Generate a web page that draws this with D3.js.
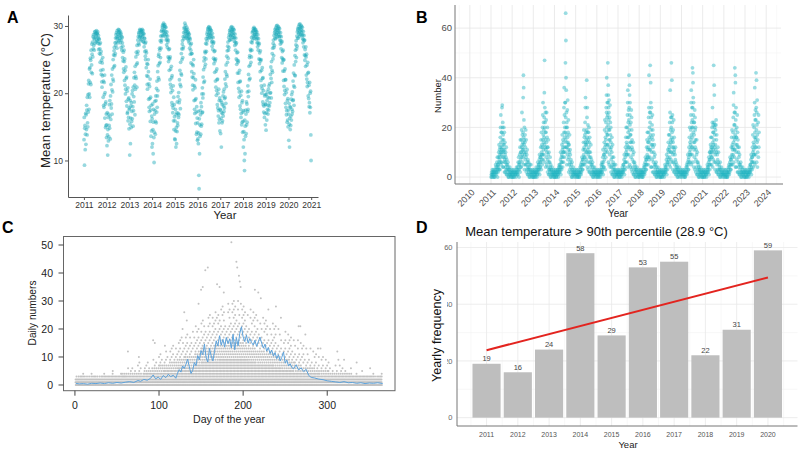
<!DOCTYPE html>
<html><head><meta charset="utf-8">
<script src="https://cdn.jsdelivr.net/npm/d3@7"></script>
<style>body{margin:0;background:#fff}svg{display:block}text{font-family:Arial,"Liberation Sans",sans-serif}</style>
</head><body><svg width="800" height="454"></svg>
<script>
// ---------- DATA ----------
// Panel A: daily mean temperature, 2011-2020 (24 half-month bins per year, 4 readings per bin)
const yearsA = [2011,2012,2013,2014,2015,2016,2017,2018,2019,2020];
const tempA = [
"13.1 16.4 9.3 14.8,15.2 11.6 13.9 17.0,12.4 16.8 14.6 18.2,17.5 13.8 19.4 15.6,15.0 19.8 17.2 21.4,21.9 17.6 19.9 23.6,19.4 23.8 21.6 25.2,24.9 21.3 26.4 23.1,24.2 27.3 25.8 22.9,27.6 25.4 28.4 26.6,28.7 27.1 28.2 26.4,28.0 29.1 27.4 28.8,29.2 28.3 28.9 27.6,28.5 29.3 27.9 28.9,28.8 27.7 29.1 28.2,27.4 28.6 26.5 28.1,28.0 25.9 27.3 26.6,24.6 27.5 25.8 23.4,26.2 22.8 24.9 21.7,20.9 24.5 22.6 25.3,23.5 19.4 21.8 18.2,17.9 21.6 19.8 22.7,16.3 20.1 18.4 14.9,18.7 15.2 16.9 13.4",
"15.3 12.2 17.1 13.8,10.8 14.6 16.4 12.9,16.9 13.5 15.2 18.3,14.8 18.9 16.6 13.2,19.6 16.1 21.3 17.8,18.4 22.7 20.5 16.9,23.6 20.2 22.1 25.0,21.8 25.7 23.9 26.3,26.8 24.1 25.6 27.5,25.9 28.2 27.1 28.7,27.6 29.0 28.3 26.7,29.3 28.1 28.8 27.5,28.4 29.5 27.8 29.1,29.4 28.6 29.0 27.9,28.2 29.2 27.5 28.7,28.9 26.8 27.9 28.4,26.4 28.3 27.5 25.3,27.0 24.8 26.1 23.6,23.1 26.4 24.7 21.9,25.1 21.2 23.4 19.9,20.6 23.9 22.2 18.8,22.4 18.1 20.3 17.0,17.2 20.8 15.9 19.1,16.4 19.3 14.7 17.8",
"17.6 10.8 15.4 18.9,12.5 16.3 18.1 14.9,18.6 15.8 17.3 19.9,16.2 20.4 18.0 15.1,20.9 17.4 19.5 22.3,18.7 23.1 21.2 16.8,24.0 20.6 22.5 25.4,22.2 26.1 24.3 20.9,27.1 24.5 25.8 27.9,26.2 28.4 27.4 29.0,28.8 27.2 28.3 29.3,29.5 28.4 29.0 27.8,28.6 29.4 28.0 29.2,29.1 28.3 29.5 28.8,28.5 29.3 27.7 28.9,27.6 28.8 26.9 28.2,28.1 26.2 27.4 25.5,25.0 27.6 26.3 23.8,26.0 22.6 24.4 21.3,20.6 24.3 22.5 25.0,23.2 19.1 21.4 17.9,17.3 21.0 19.2 22.1,15.8 19.4 17.5 13.6,18.2 14.4 16.6 12.0",
"16.2 12.5 18.4 14.6,11.0 15.7 17.6 13.4,9.7 14.2 16.9 18.8,17.4 13.9 15.8 19.6,18.9 15.6 20.7 17.2,21.8 17.9 19.6 23.2,20.4 24.1 22.3 25.5,25.8 22.0 24.4 26.7,26.4 24.6 27.8 25.3,28.5 26.7 27.6 29.2,27.9 29.4 28.6 30.0,29.8 28.5 30.2 29.1,30.4 29.3 28.7 30.0,29.6 30.2 28.9 29.9,29.2 28.4 29.8 27.9,28.7 27.2 29.1 28.0,26.8 28.5 27.6 25.4,27.9 24.7 26.5 25.2,23.4 26.6 25.1 22.0,25.4 21.3 23.6 20.1,20.8 24.0 22.3 18.6,22.6 18.2 20.4 17.1,17.8 21.1 15.9 19.4,14.6 18.3 16.5 13.2",
"15.9 13.1 17.6 14.4,12.0 16.8 14.9 12.5,17.1 14.3 18.7 15.6,15.2 19.5 17.0 16.4,20.1 16.8 18.6 22.0,19.0 23.4 21.3 17.7,24.6 21.0 22.9 25.9,22.7 26.6 25.0 27.3,27.8 25.3 26.6 28.4,26.9 29.0 28.1 29.6,29.8 28.5 30.4 29.2,28.9 30.1 29.5 28.2,29.3 28.4 29.8 28.9,28.6 29.5 28.1 29.1,29.0 27.8 28.7 28.3,27.5 28.8 26.7 28.2,28.0 25.8 27.2 26.4,24.5 27.4 25.9 23.2,25.9 22.4 24.3 21.2,20.5 24.1 22.3 25.0,22.9 18.9 21.1 17.6,17.0 20.8 19.0 22.0,15.5 19.2 17.2 13.9,18.0 14.2 16.3 13.0",
"15.6 13.2 17.3 12.5,14.1 7.8 5.8 16.2,11.0 15.3 13.6 17.4,16.8 13.9 18.6 15.1,18.0 15.4 19.9 17.1,20.8 17.2 19.3 22.4,19.9 23.5 21.6 24.8,25.3 21.8 23.9 26.2,26.0 24.3 27.4 25.1,28.1 26.2 27.3 28.8,27.8 29.1 28.4 29.6,29.4 28.2 29.8 28.7,29.9 28.9 28.3 29.5,29.2 29.7 28.6 29.4,28.8 28.1 29.3 27.6,28.4 27.0 28.9 27.7,26.5 28.3 27.4 25.2,27.6 24.4 26.2 25.0,23.1 26.3 24.8 21.8,25.1 20.9 23.3 19.7,20.4 23.6 22.0 18.3,22.1 17.8 20.0 16.6,17.4 20.6 15.6 18.9,16.1 19.3 14.4 17.6",
"17.5 14.0 18.9 16.3,12.0 17.1 18.6 15.6,18.3 15.9 17.0 19.6,16.6 20.2 18.1 17.3,20.6 17.8 19.2 22.1,19.4 23.2 21.4 18.5,24.2 21.0 22.8 25.5,22.5 26.3 24.6 27.0,27.6 25.2 26.4 28.3,26.8 28.7 27.9 29.3,29.0 27.9 29.5 28.5,28.6 29.8 29.2 28.0,29.9 28.8 29.4 28.3,29.1 29.7 28.6 29.5,28.9 28.2 29.4 27.7,28.3 27.1 28.8 27.6,26.4 28.2 27.3 25.1,27.5 24.3 26.0 24.9,23.0 26.1 24.6 21.6,24.8 20.7 23.0 19.4,20.2 23.4 21.7 18.1,21.8 17.6 19.7 16.4,17.0 20.3 15.3 18.6,15.7 18.9 14.2 17.2",
"15.8 12.0 17.4 14.3,13.1 10.0 8.5 16.0,11.0 15.1 13.6 17.5,16.9 14.0 18.7 15.3,18.4 15.7 20.2 17.3,21.1 17.6 19.5 22.8,20.3 24.0 22.0 25.3,25.6 22.2 24.2 26.5,26.3 24.6 27.6 25.4,28.3 26.4 27.5 29.0,27.9 29.2 28.5 29.6,29.3 28.2 29.8 28.7,29.6 28.7 28.2 29.4,29.0 29.5 28.4 29.2,28.7 28.0 29.1 27.5,28.2 26.9 28.7 27.5,26.4 28.1 27.2 25.1,27.4 24.4 26.0 25.0,23.2 26.3 24.8 21.9,25.0 21.1 23.4 20.0,20.7 23.8 22.2 18.7,22.3 18.3 20.4 17.2,18.1 21.2 16.4 19.6,17.0 19.8 15.3 18.4",
"18.3 14.5 19.8 17.1,16.0 18.9 20.2 17.6,19.4 16.9 18.2 20.6,17.5 21.1 19.3 18.1,21.4 18.6 20.0 22.8,20.1 23.9 22.2 19.3,24.7 21.6 23.4 25.9,23.1 26.7 25.1 27.4,27.9 25.6 26.8 28.6,27.1 29.0 28.2 29.5,29.2 28.1 29.7 28.7,28.8 30.0 29.4 28.3,30.1 29.0 29.6 28.5,29.3 29.9 28.8 29.7,29.1 28.4 29.6 27.9,28.5 27.3 29.0 27.8,26.6 28.4 27.5 25.3,27.7 24.5 26.2 25.1,23.3 26.4 24.9 21.9,25.0 21.0 23.3 19.8,20.4 23.6 22.0 18.5,22.0 17.9 20.1 16.8,17.4 20.6 15.7 18.9,16.0 19.2 15.0 17.5",
"16.9 13.0 18.5 15.4,12.0 16.3 18.0 14.6,17.9 15.2 16.6 19.1,16.0 19.8 17.6 16.9,20.2 17.3 18.9 21.8,19.0 23.0 21.1 18.2,24.2 20.9 22.7 25.6,22.6 26.4 24.7 27.2,27.8 25.3 26.6 28.5,27.0 29.1 28.2 29.6,29.4 28.2 29.9 28.8,29.0 30.2 29.6 28.5,30.3 29.2 29.8 28.7,29.5 30.1 29.0 29.9,29.3 28.6 29.8 28.1,28.7 27.5 29.2 28.0,26.9 28.6 27.8 25.7,27.9 24.9 26.5 25.6,24.0 26.9 25.4 22.7,25.8 22.1 24.2 21.0,21.6 24.6 23.0 19.6,23.1 19.2 21.2 18.0,18.6 21.6 17.1 20.0,17.9 20.3 13.8 10.0"
];
const ticksA = [2011,2012,2013,2014,2015,2016,2017,2018,2019,2020,2021];

// Panel B: daily numbers, 2011 - mid 2023 (readings per month)
const yearsB = [2011,2012,2013,2014,2015,2016,2017,2018,2019,2020,2021,2022,2023];
const numB = [
"0 1 2 0 1 3 2,1 0 2 3 1 2 0,0 2 1 3 5 4 2,1 3 2 6 4 8 0 5 3,2 5 8 4 10 6 13 3 7 11 9,3 8 12 16 6 20 10 25 14 5 18 9 11,6 12 18 28 10 29 15 20 8 22 4 13 17 11,4 10 15 20 8 13 6 18 2 11 7 14 9,2 6 10 4 8 3 12 1 5 7,1 3 5 2 6 4 0 3,0 2 1 3 4 1 2,1 0 2 3 1 0 2",
"0 1 2 3 1 0 2,0 2 1 3 1 2,1 0 2 4 3 2 1,2 4 1 6 3 8 5 0,3 6 9 5 12 2 15 7 10 4,4 10 15 8 19 12 26 6 13 17 9 11,8 14 18 32 11 41 16 36 5 23 13 10 15 20,3 9 14 17 7 12 5 19 10 8 15,2 5 9 3 11 6 1 4 7,1 3 6 2 4 0 3 5,0 2 1 3 5 2 1,1 0 2 3 0 2",
"0 1 2 3 0 1 2,1 0 2 3 4 2 1,0 2 1 3 6 4 3 5,2 5 3 7 9 1 4 6 8,4 8 12 6 15 3 18 10 9 13 7,5 12 20 9 25 15 30 7 17 11 22 14 19,9 16 24 34 13 47 20 28 6 22 18 12 26 15,4 11 18 23 8 14 26 5 10 16 12 20,2 7 12 4 9 15 1 6 10 3,1 3 6 2 8 4 0 5 3,0 2 1 3 4 2 1,1 0 2 3 1 2 0",
"0 1 2 3 1 2 0,0 2 1 3 2 1 3,1 0 2 4 3 5 2 4,2 5 3 7 10 1 4 6 8,3 9 13 6 17 11 4 8 15 12 10,6 14 22 10 28 18 36 8 25 16 12 20 30,10 18 30 46 15 66 24 55 40 12 35 20 26 17 14 22,5 12 20 27 9 16 31 7 14 18 11 23 13,2 8 13 5 10 17 3 6 11 9,1 4 7 2 5 0 3 6,0 2 1 3 4 2 1,1 0 2 3 2 1",
"0 1 2 3 1 0,1 0 2 3 1 2 0,0 2 1 4 3 2 5,1 4 2 6 8 3 5 7,3 7 11 5 14 9 19 8 12 16,5 11 17 8 22 14 28 32 6 13 18 10 15,7 13 19 39 10 24 16 28 4 14 18 11 21,3 9 15 18 6 12 20 2 10 14 8 16,2 6 10 4 8 13 1 5 7,1 3 5 2 6 0 4 2,0 2 1 3 4 1 2,1 0 2 3 1 2",
"0 1 2 3 0 1 2,1 0 2 3 1 2,0 2 1 3 5 4 2 6,2 5 3 8 11 1 6 4 9,4 9 14 7 19 12 23 3 10 16 13,8 15 22 11 28 18 33 26 40 20 24 13 30 17,10 17 25 46 13 30 21 37 33 6 28 23 19 26 15 31,5 12 19 24 9 15 29 4 22 17 11 20 14,2 7 12 4 10 16 1 8 5 13,1 3 6 2 8 4 0 5 3,0 2 1 3 5 2 1,1 0 2 3 1 2",
"0 1 2 3 1 2 0,0 2 1 3 2 1,1 0 2 4 3 2 5,2 5 3 7 9 1 4 6,3 8 12 6 16 10 20 9 14 11,6 13 20 9 25 16 30 35 4 18 22 12 27,9 16 23 41 12 28 19 37 33 5 25 21 30 14 17,4 11 17 22 8 14 27 3 24 19 12 15,2 7 11 4 9 14 1 6 10,1 3 6 2 5 0 4 3,0 2 1 3 4 2,1 0 2 3 1 0",
"0 1 2 3 1 2,1 0 2 3 1 2 0,0 2 1 3 4 2 5,1 4 2 6 8 3 5 7,3 7 12 5 15 9 18 8 11 14,5 12 18 8 24 14 28 41 7 16 20 11 26,8 15 22 45 11 26 17 38 30 4 19 24 13 28,4 10 16 21 7 13 25 2 19 15 12 17,2 6 10 4 8 13 1 5 9,1 3 5 2 6 0 4 2,0 2 1 3 4 1 2,1 0 2 3 2 0",
"0 1 2 3 1 0 2,0 2 1 3 2 1,1 0 2 3 5 4 2,2 4 3 7 9 1 5 6,3 8 11 6 14 10 17 7 12,5 11 17 8 22 13 26 35 4 15 19 10 24,7 14 20 46 10 24 16 39 6 18 22 12 25 15,3 9 14 19 6 12 23 2 10 16 11,2 5 9 3 7 12 1 6 4,1 3 5 2 4 0 3 2,0 2 1 3 4 2,1 0 2 3 1 2",
"0 1 2 3 1 2,1 0 2 3 1 2 0,0 2 1 3 4 2 5,1 4 2 6 9 3 5 7,3 8 12 6 16 10 20 9 14 11,6 13 19 9 25 15 30 35 5 17 22 12 28 20,9 16 23 44 12 28 20 42 38 6 32 25 18 30 14 22,4 11 17 22 8 14 27 3 24 19 12 15 20,2 7 11 4 9 15 1 6 10,1 3 6 2 5 0 4 3,0 2 1 3 4 2 1,1 0 2 3 2 0",
"0 1 2 3 1 2 0,0 2 1 3 2 1,1 0 2 3 5 4 2,2 4 3 6 8 1 5 7 10,3 7 10 5 13 9 16 11 12 8,5 10 16 8 20 12 22 28 4 14 18 11 21,7 13 18 45 10 22 15 37 33 6 20 12 17 21,3 9 13 19 6 11 21 23 2 15 10 17,2 5 9 3 7 12 1 6 10,1 3 5 2 4 0 3 6,0 2 1 3 4 2 1,1 0 2 3 1 2",
"0 1 2 3 1 0,1 0 2 3 1 2 0,0 2 1 3 4 2 5,1 4 2 6 8 3 5 7,3 7 12 5 16 9 19 8 13 11,5 12 18 9 24 14 29 34 6 16 21 11 26,8 15 21 44 11 26 17 41 38 4 19 23 13 28 16,4 10 16 20 7 13 25 2 18 12 15,2 6 10 4 8 12 1 5 9,1 3 5 2 6 0 4 2,0 2 1 3 4 1 2,1 0 2 3 2 0",
"0 1 2 3 1 2 0,0 2 1 3 2 1,1 0 2 4 3 2 5,2 5 3 7 9 1 4 6 8,3 8 12 6 17 10 21 4 14 11 9,6 13 20 9 25 16 30 36 5 18 23 12 27 15,9 16 23 42 12 28 19 39 6 26 21 14 31 17,4 10 15 22 8 25 12 18"
];
const ticksB = [2010,2011,2012,2013,2014,2015,2016,2017,2018,2019,2020,2021,2022,2023,2024];

// Panel C: day-of-year counts. Per 5-day bin, number of points at each integer level (char index = level)
const histC = ["5542","55431","5542","55421","5543","5542","55431","5543","55431","5543","55431","55442",
"5543201","5543211","55432101","554321101","55433211","554332101",
"5543322101","55433221101","554332221101","5543332211101","55433322211011","554333222111011",
"55433332221111011","554333322211110101","5543333222211111011","55433332222111110101",
"5543333322221111110101","55433333222221111101101","554333333222221111110101","5543333332222211111101101",
"55433333322222111111011011","554333333222222111111011101","5543333333222221111111010101","55433333332222211111110101101",
"554333333322222211111110101101","5543333333222222111111101011011","5543333333222222111111110101101","554333333322222211111110110101",
"55433333332222211111110101101","5543333332222211111110101101","554333333222221111110101101","55433333222221111110101101",
"5543333322222111110110101","554333332222111110101101","55433333222211111010101","5543333222211111011011",
"554333322221111010101","55433322221111011001","5543332222111101101","554333222111101011",
"55433222111101101","5543322211110101","554332211101011","55433221110101",
"5543322110101","554332111011","55432211011","5543221101",
"554321101","55432101","5543210101","5543211","554321","5543201",
"55431","5543","554301","5543","55431","5542","55431"];
const outDayC = [45,63,76,93,95,107,128,130,133,147,150,152,155,158,169,172,177,186,192,193,195,196,197,214,218,221,230,239,245,266,268,274,289,292,312,320,335,351];
const outValC = [5,12,10,16,15,14,20,26,23,29,34,35,41,42,36,35,33,51,44,42,39,37,35,34,33,31,27,28,24,21,21,18,13,13,12,9,8,6];
const meanDayC = [1,5,10,15,20,25,30,35,40,45,50,55,60,65,70,75,78,82,86,90,93,96,99,102,105,108,111,114,117,120,122,124,126,128,130,132,134,136,138,140,142,144,146,148,150,152,154,156,158,160,162,164,166,168,170,172,174,176,178,180,182,184,186,188,190,192,194,196,198,200,202,204,206,208,210,212,214,216,218,220,222,224,226,228,230,232,234,236,238,240,242,244,246,248,250,252,254,256,258,260,263,266,269,272,275,278,281,285,290,295,300,305,310,315,320,325,330,335,340,345,350,355,360,366];
const meanValC = [0.6,0.4,0.5,0.3,0.6,0.5,0.7,0.5,0.8,0.6,0.9,0.7,1.0,1.2,0.9,1.6,1.3,2.0,1.7,2.4,3.6,2.2,2.8,2.0,3.4,2.6,3.8,3.0,3.5,2.4,4.2,5.5,4.6,6.8,5.9,7.4,9.2,6.5,4.1,5.2,8.0,6.9,10.5,9.0,12.3,10.8,14.6,9.7,8.2,13.1,10.4,8.6,12.0,15.8,13.9,17.6,14.2,16.3,13.5,17.0,14.8,16.5,13.2,18.1,12.6,16.9,14.0,18.4,20.8,17.2,15.5,17.8,14.9,16.6,15.2,14.3,16.0,13.8,15.4,17.1,15.0,13.2,14.6,12.1,13.4,11.2,12.5,10.3,11.6,9.4,10.8,8.6,9.9,11.8,7.8,8.9,6.8,7.6,6.2,5.8,7.2,5.4,6.1,4.8,5.6,3.4,2.7,2.5,2.1,1.9,1.5,1.3,1.1,0.9,1.2,0.8,0.9,0.6,0.8,0.5,0.7,0.6,0.8,0.5];
const ticksCx = [0,100,200,300];
const ticksCy = [0,10,20,30,40,50];

// Panel D: yearly frequency of days above 90th percentile
const yearsD = [2011,2012,2013,2014,2015,2016,2017,2018,2019,2020];
const freqD = [19,16,24,58,29,53,55,22,31,59];
const ticksDy = [0,20,40,60];

// ---------- DRAW ----------
const svg = d3.select("svg");
function fit(t, w){ const cur = t.node().getComputedTextLength(); const fs = parseFloat(t.attr("font-size")); t.attr("font-size", (fs*w/cur).toFixed(2)); return t; }
function letter(x, y, s){ svg.append("text").attr("x", x).attr("y", y).attr("font-size", 16).attr("font-weight", "bold").attr("fill", "#000").text(s); }

// ===== Panel A =====
const xA = d3.scaleLinear().domain([2010.3, 2021.3]).range([68, 318]);
const yA = d3.scaleLinear().domain([4.57, 31.63]).range([197, 15]);
const ptsA = [];
yearsA.forEach((yr, k) => tempA[k].split(",").forEach((bin, b) => {
  const v = bin.trim().split(/\s+/).map(Number);
  v.forEach((t, i) => ptsA.push([yr + (b + (i + 0.5) / v.length) / 24, t]));
}));
svg.append("g").selectAll("circle").data(ptsA).join("circle")
  .attr("cx", d => xA(d[0])).attr("cy", d => yA(d[1])).attr("r", 1.9)
  .attr("fill", "#18a9b9").attr("fill-opacity", 0.45);
const axA = svg.append("g").attr("transform", "translate(0,197)")
  .call(d3.axisBottom(xA).tickValues(ticksA).tickFormat(d3.format("d")).tickSize(3).tickSizeOuter(0).tickPadding(2));
const ayA = svg.append("g").attr("transform", "translate(68,0)")
  .call(d3.axisLeft(yA).tickValues([10,20,30]).tickSize(3).tickSizeOuter(0).tickPadding(2));
[axA, ayA].forEach(g => { g.select(".domain").attr("stroke", "#555"); g.selectAll(".tick line").attr("stroke", "#555");
  g.selectAll("text").attr("font-size", 8.5).attr("fill", "#333").attr("font-family", null); });
fit(svg.append("text").attr("x", 225).attr("y", 219).attr("text-anchor", "middle").attr("font-size", 11).attr("fill", "#222").text("Year"), 23);
fit(svg.append("text").attr("transform", "translate(49.5,100.5) rotate(-90)").attr("text-anchor", "middle").attr("font-size", 13).attr("fill", "#222").text("Mean temperature (°C)"), 135);
letter(7, 23, "A");

// ===== Panel B =====
const xB = d3.scaleLinear().domain([2009.3, 2024.7]).range([455, 781]);
const yB = d3.scaleLinear().domain([-2.8, 69.3]).range([184, 5]);
const gB = svg.append("g");
d3.range(2009.5, 2024.6, 1).forEach(t => gB.append("line").attr("x1", xB(t)).attr("x2", xB(t)).attr("y1", 5).attr("y2", 184).attr("stroke", "#f3f3f3").attr("stroke-width", 0.6));
[10,30,50].forEach(t => gB.append("line").attr("x1", 455).attr("x2", 781).attr("y1", yB(t)).attr("y2", yB(t)).attr("stroke", "#f3f3f3").attr("stroke-width", 0.6));
ticksB.forEach(t => gB.append("line").attr("x1", xB(t)).attr("x2", xB(t)).attr("y1", 5).attr("y2", 184).attr("stroke", "#e6e6e6").attr("stroke-width", 0.8));
[0,20,40,60].forEach(t => gB.append("line").attr("x1", 455).attr("x2", 781).attr("y1", yB(t)).attr("y2", yB(t)).attr("stroke", "#e6e6e6").attr("stroke-width", 0.8));
const ptsB = [];
yearsB.forEach((yr, k) => numB[k].split(",").forEach((mon, m) => {
  const v = mon.trim().split(/\s+/).map(Number);
  v.forEach((n, i) => ptsB.push([yr + (m + (i + 0.5) / v.length) / 12, n]));
}));
gB.append("g").selectAll("circle").data(ptsB).join("circle")
  .attr("cx", d => xB(d[0])).attr("cy", d => yB(d[1])).attr("r", 1.9)
  .attr("fill", "#1fb3c1").attr("fill-opacity", 0.45);
gB.append("line").attr("x1", 455).attr("x2", 455).attr("y1", 5).attr("y2", 184).attr("stroke", "#777");
gB.append("line").attr("x1", 455).attr("x2", 783).attr("y1", 184).attr("y2", 184).attr("stroke", "#777");
[0,20,40,60].forEach(t => gB.append("text").attr("x", 452).attr("y", yB(t) + 3.3).attr("text-anchor", "end").attr("font-size", 9.5).attr("fill", "#4d4d4d").text(t));
ticksB.forEach(t => gB.append("text").attr("transform", `translate(${xB(t) + 5.5},193) rotate(-45)`).attr("text-anchor", "end").attr("font-size", 9).attr("fill", "#4d4d4d").text(t));
gB.append("text").attr("x", 618).attr("y", 216.5).attr("text-anchor", "middle").attr("font-size", 10).attr("fill", "#222").text("Year");
gB.append("text").attr("transform", "translate(441,96) rotate(-90)").attr("text-anchor", "middle").attr("font-size", 9.5).attr("fill", "#222").text("Number");
letter(416, 23, "B");

// ===== Panel C =====
const xC = d3.scaleLinear().domain([-13.6, 380.6]).range([63.5, 395]);
const yC = d3.scaleLinear().domain([-2.04, 53.04]).range([390.7, 236.5]);
const ptsC = [];
histC.forEach((h, b) => h.split("").forEach((ch, lev) => {
  const c = +ch;
  for (let j = 0; j < c; j++) ptsC.push([5 * b + 0.5 + (((j + 0.5) * 5 / c + lev * 1.7) % 5), lev]);
}));
outDayC.forEach((d, i) => ptsC.push([d, outValC[i]]));
const gC = svg.append("g");
gC.append("g").selectAll("circle").data(ptsC).join("circle")
  .attr("cx", d => xC(d[0])).attr("cy", d => yC(d[1])).attr("r", 1)
  .attr("fill", "#c2c2c2");
gC.append("path").datum(meanDayC.map((d, i) => [d, meanValC[i]]))
  .attr("d", d3.line().x(d => xC(d[0])).y(d => yC(d[1])))
  .attr("fill", "none").attr("stroke", "#5da3dc").attr("stroke-width", 1);
gC.append("rect").attr("x", 63.5).attr("y", 236.5).attr("width", 395 - 63.5).attr("height", 390.7 - 236.5).attr("fill", "none").attr("stroke", "#666");
ticksCy.forEach(t => {
  gC.append("line").attr("x1", 58.5).attr("x2", 63.5).attr("y1", yC(t)).attr("y2", yC(t)).attr("stroke", "#444");
  gC.append("text").attr("x", 53).attr("y", yC(t) + 3.7).attr("text-anchor", "end").attr("font-size", 10.5).attr("fill", "#222").text(t);
});
ticksCx.forEach(t => {
  gC.append("line").attr("x1", xC(t)).attr("x2", xC(t)).attr("y1", 390.7).attr("y2", 395.7).attr("stroke", "#444");
  gC.append("text").attr("x", xC(t)).attr("y", 409).attr("text-anchor", "middle").attr("font-size", 10.5).attr("fill", "#222").text(t);
});
fit(gC.append("text").attr("x", 229).attr("y", 422.5).attr("text-anchor", "middle").attr("font-size", 10.5).attr("fill", "#222").text("Day of the year"), 72);
fit(gC.append("text").attr("transform", "translate(36,313) rotate(-90)").attr("text-anchor", "middle").attr("font-size", 10.5).attr("fill", "#222").text("Daily numbers"), 65);
letter(2, 233, "C");

// ===== Panel D =====
const xD = d3.scaleLinear().domain([2010.055, 2020.945]).range([457, 797.5]);
const yD = d3.scaleLinear().domain([-2.95, 61.95]).range([426, 242]);
const gD = svg.append("g");
[10,30,50].forEach(t => gD.append("line").attr("x1", 457).attr("x2", 797.5).attr("y1", yD(t)).attr("y2", yD(t)).attr("stroke", "#f3f3f3").attr("stroke-width", 0.6));
d3.range(2010.5, 2021, 1).forEach(t => gD.append("line").attr("x1", xD(t)).attr("x2", xD(t)).attr("y1", 242).attr("y2", 426).attr("stroke", "#f3f3f3").attr("stroke-width", 0.6));
ticksDy.forEach(t => gD.append("line").attr("x1", 457).attr("x2", 797.5).attr("y1", yD(t)).attr("y2", yD(t)).attr("stroke", "#e8e8e8").attr("stroke-width", 0.8));
yearsD.forEach(t => gD.append("line").attr("x1", xD(t)).attr("x2", xD(t)).attr("y1", 242).attr("y2", 426).attr("stroke", "#e8e8e8").attr("stroke-width", 0.8));
gD.selectAll("rect.bar").data(yearsD).join("rect").attr("class", "bar")
  .attr("x", d => xD(d - 0.45)).attr("width", d => xD(d + 0.45) - xD(d - 0.45))
  .attr("y", (d, i) => yD(freqD[i])).attr("height", (d, i) => yD(0) - yD(freqD[i]))
  .attr("fill", "#bebebe");
yearsD.forEach((d, i) => gD.append("text").attr("x", xD(d)).attr("y", yD(freqD[i]) - 2.5).attr("text-anchor", "middle").attr("font-size", 7.5).attr("fill", "#444").text(freqD[i]));
// least-squares trend line from the bar values
const mx = d3.mean(yearsD), my = d3.mean(freqD);
const slope = d3.sum(yearsD, (x, i) => (x - mx) * (freqD[i] - my)) / d3.sum(yearsD, x => (x - mx) ** 2);
const ends = [yearsD[0], yearsD[yearsD.length - 1]];
gD.append("line").attr("x1", xD(ends[0])).attr("y1", yD(my + slope * (ends[0] - mx)))
  .attr("x2", xD(ends[1])).attr("y2", yD(my + slope * (ends[1] - mx)))
  .attr("stroke", "#e3241f").attr("stroke-width", 2);
gD.append("line").attr("x1", 457).attr("x2", 457).attr("y1", 242).attr("y2", 426).attr("stroke", "#777");
gD.append("line").attr("x1", 457).attr("x2", 797.5).attr("y1", 426).attr("y2", 426).attr("stroke", "#777");
ticksDy.forEach(t => gD.append("text").attr("x", 452.5).attr("y", yD(t) + 2.6).attr("text-anchor", "end").attr("font-size", 7.5).attr("fill", "#666").text(t));
yearsD.forEach(t => gD.append("text").attr("x", xD(t)).attr("y", 436.5).attr("text-anchor", "middle").attr("font-size", 7).attr("fill", "#555").text(t));
gD.append("text").attr("x", 628).attr("y", 447.5).attr("text-anchor", "middle").attr("font-size", 9.5).attr("fill", "#222").text("Year");
gD.append("rect").attr("x", 426).attr("y", 284).attr("width", 21).attr("height", 102).attr("fill", "#fff");
fit(gD.append("text").attr("transform", "translate(440.5,335.5) rotate(-90)").attr("text-anchor", "middle").attr("font-size", 12.5).attr("fill", "#111").attr("font-family", "'Open Sans',Arial,sans-serif").text("Yearly frequency"), 93);
fit(gD.append("text").attr("x", 596.5).attr("y", 236).attr("text-anchor", "middle").attr("font-size", 12.5).attr("fill", "#111").attr("font-family", "'Open Sans',Arial,sans-serif").text("Mean temperature > 90th percentile (28.9 °C)"), 263);
letter(416, 233, "D");
</script></body></html>
